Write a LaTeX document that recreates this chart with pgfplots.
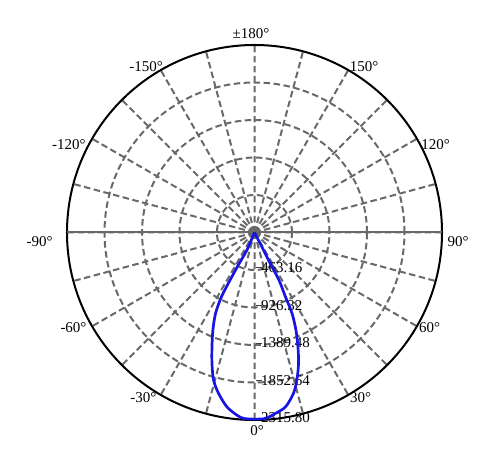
\documentclass[border=0pt]{standalone}
\usepackage{fontspec}
\setmainfont{Liberation Serif}
\usepackage{pgfplots}
\pgfplotsset{compat=1.18}
\usepgfplotslibrary{polar}
\definecolor{gridgray}{RGB}{105,105,105}
\definecolor{curveblue}{RGB}{25,20,225}

\begin{document}
\begin{tikzpicture}[font=\fontsize{15}{17}\selectfont]
\begin{polaraxis}[
  width=375pt, height=375pt, scale only axis,
  xmin=0, xmax=360, ymin=0, ymax=2315.8,
  xtick={0,15,...,345},
  ytick={463.16,926.32,1389.48,1852.64},
  xticklabels={}, yticklabels={},
  major tick length=0pt,
  grid=major,
  major grid style={gridgray, line width=2pt, dash pattern=on 6.5pt off 3.5pt},
  axis line style={black, line width=2pt},
  clip=false,
]
% solid horizontal diameter
\draw[gridgray, line width=2pt] (axis cs:0,2315.8) -- (axis cs:180,2315.8);
\fill[gridgray] (axis cs:0,0) circle (4.5pt);

% radial values along the 0 degree direction
\pgfplotsinvokeforeach{463.16,926.32,1389.48,1852.64,2315.80}{
  \draw[gridgray!60!black, line width=1pt] (axis cs:-90,#1) ++(1.5pt,2pt) -- ++(6pt,0);
  \node[anchor=west, inner sep=0, xshift=6.5pt, yshift=2pt] at (axis cs:-90,#1) {#1};
}

% traced intensity curve (angle, cd)
\addplot[curveblue, line width=2.7pt, smooth, tension=0.5] coordinates {
  (-90,0) (-62.9,244) (-63.1,428) (-62.8,661) (-64.3,882) (-65.1,1101)
  (-67.0,1310) (-69.2,1511) (-71.4,1706) (-74.0,1897) (-76.4,2045)
  (-79.9,2187) (-83.4,2249) (-86.6,2300) (-90,2305) (-93.4,2300)
  (-95.5,2266) (-99.0,2180) (-102.6,2036) (-105.5,1892) (-108.0,1700)
  (-110.4,1507) (-113.1,1310) (-115.7,1109) (-117.2,893) (-117.2,661)
  (-116.3,426) (-113.4,237) (-90,0)
};
\coordinate (c) at (axis cs:0,0);
\end{polaraxis}

\begin{scope}[every node/.style={inner sep=0}]
\node at ([shift={(-3.5pt,198.5pt)}]c) {±180°};
\node at ([shift={(-108.5pt,166pt)}]c) {-150°};
\node at ([shift={(109.5pt,166pt)}]c) {150°};
\node at ([shift={(-185.7pt,87.5pt)}]c) {-120°};
\node at ([shift={(181pt,87.5pt)}]c) {120°};
\node at ([shift={(-214.8pt,-9.2pt)}]c) {-90°};
\node at ([shift={(203.5pt,-9.2pt)}]c) {90°};
\node at ([shift={(-181pt,-95.5pt)}]c) {-60°};
\node at ([shift={(175pt,-95.5pt)}]c) {60°};
\node at ([shift={(-111.2pt,-165.5pt)}]c) {-30°};
\node at ([shift={(106pt,-165.5pt)}]c) {30°};
\node at ([shift={(2.5pt,-198.5pt)}]c) {0°};
\end{scope}

\pgfresetboundingbox
\path (c) ++(-254.5pt,-224.5pt) rectangle ++(494pt,457pt);
\end{tikzpicture}
\end{document}
